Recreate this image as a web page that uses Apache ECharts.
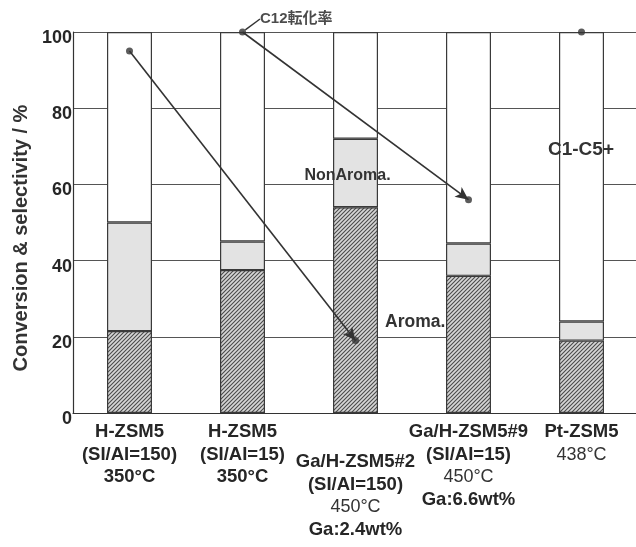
<!DOCTYPE html>
<html>
<head>
<meta charset="utf-8">
<script src="https://cdn.jsdelivr.net/npm/echarts@6/dist/echarts.min.js"></script>
<style>
  html, body { margin: 0; padding: 0; background: #fff; }
  #chart { width: 636px; height: 547px; }
</style>
</head>
<body>
<div id="chart"></div>
<script>
// catalyst / condition lines under each bar
const catalysts = ["H-ZSM5", "H-ZSM5", "Ga/H-ZSM5#2", "Ga/H-ZSM5#9", "Pt-ZSM5"];
const siAl = ["(SI/AI=150)", "(SI/AI=15)", "(SI/AI=150)", "(SI/AI=15)", ""];
const temps = ["350°C", "350°C", "450°C", "450°C", "438°C"];
const gaLoad = ["", "", "Ga:2.4wt%", "Ga:6.6wt%", ""];

// selectivity segments, %
const aroma = [21.5, 37.5, 54, 36, 19];
const nonAroma = [28.5, 7.5, 18, 8.5, 5];
const lightGas = [50, 55, 28, 55.5, 76];
// C12 conversion, %
const conversion = [95, 100, 19, 56, 100];

const yTicks = [0, 20, 40, 60, 80, 100];

const FONT = "'Liberation Sans', Arial, 'Noto Sans CJK JP', sans-serif";

// diagonal hatch for the aromatics segment
function hatch() {
  const c = document.createElement("canvas");
  c.width = 4;
  c.height = 4;
  const g = c.getContext("2d");
  g.fillStyle = "#d6d6d6";
  g.fillRect(0, 0, 4, 4);
  g.strokeStyle = "#4a4a4a";
  g.lineWidth = 1.1;
  g.beginPath();
  g.moveTo(0, 4); g.lineTo(4, 0);
  g.moveTo(-1, 1); g.lineTo(1, -1);
  g.moveTo(3, 5); g.lineTo(5, 3);
  g.stroke();
  return c;
}

const chart = echarts.init(document.getElementById("chart"), null, { renderer: "canvas" });

const border = { borderColor: "#3a3a3a", borderWidth: 1.2 };

const option = {
  animation: false,
  textStyle: { fontFamily: FONT },
  grid: { left: 73, right: -2, top: 32, bottom: 134, outerBoundsMode: "none" },
  xAxis: {
    type: "category",
    data: catalysts,
    axisLine: { lineStyle: { color: "#333", width: 1.2 } },
    axisTick: { inside: true, length: 4, lineStyle: { color: "#444" } },
    splitLine: { show: false },
    axisLabel: {
      interval: 0,
      margin: 8,
      formatter: function (v, i) {
        const lines = [];
        if (i === 2) lines.push("{sp| }");
        lines.push("{b|" + catalysts[i] + "}");
        if (siAl[i]) lines.push("{b|" + siAl[i] + "}");
        lines.push((i < 2 ? "{b|" : "{n|") + temps[i] + "}");
        if (gaLoad[i]) lines.push("{b|" + gaLoad[i] + "}");
        return lines.join("\n");
      },
      rich: {
        sp: { lineHeight: 30, fontSize: 10 },
        b: { fontSize: 18.5, fontWeight: "bold", color: "#262626", lineHeight: 22.5, fontFamily: FONT },
        n: { fontSize: 18, fontWeight: "normal", color: "#333", lineHeight: 22.5, fontFamily: FONT }
      }
    }
  },
  yAxis: {
    type: "value",
    min: yTicks[0],
    max: yTicks[yTicks.length - 1],
    interval: 20,
    name: "Conversion & selectivity / %",
    nameLocation: "middle",
    nameGap: 42,
    nameTextStyle: {
      fontSize: 20,
      fontWeight: "bold",
      color: "#333",
      fontFamily: FONT,
      padding: [0, 31, 0, 0]
    },
    axisLine: { show: true, lineStyle: { color: "#333", width: 1.2 } },
    axisTick: { show: false },
    axisLabel: {
      margin: 1,
      formatter: "{t|{value}}",
      rich: {
        t: { fontSize: 18, fontWeight: "bold", color: "#262626", padding: [12, 0, 0, 0], fontFamily: FONT }
      }
    },
    splitLine: { lineStyle: { color: "#555", width: 1.2 } }
  },
  series: [
    {
      name: "Aroma.",
      type: "bar",
      stack: "sel",
      barWidth: 45,
      data: aroma.map(function (v, i) {
        if (i !== 2) return v;
        return {
          value: v,
          label: {
            show: true,
            formatter: "Aroma.",
            position: [52, 115],
            align: "left",
            verticalAlign: "middle",
            fontSize: 17.5,
            fontWeight: "bold",
            color: "#333"
          }
        };
      }),
      itemStyle: Object.assign({ color: { image: hatch(), repeat: "repeat" } }, border)
    },
    {
      name: "NonAroma.",
      type: "bar",
      stack: "sel",
      barWidth: 45,
      data: nonAroma.map(function (v, i) {
        if (i !== 2) return v;
        return {
          value: v,
          label: {
            show: true,
            formatter: "NonAroma.",
            position: "inside",
            offset: [-8, 3],
            fontSize: 16,
            fontWeight: "bold",
            color: "#333"
          }
        };
      }),
      itemStyle: Object.assign({ color: "#e3e3e3" }, border)
    },
    {
      name: "C1-C5+",
      type: "bar",
      stack: "sel",
      barWidth: 45,
      data: lightGas.map(function (v, i) {
        if (i !== 4) return v;
        return {
          value: v,
          label: {
            show: true,
            formatter: "C1-C5+",
            position: [22, 118],
            align: "center",
            verticalAlign: "middle",
            fontSize: 19,
            fontWeight: "bold",
            color: "#333"
          }
        };
      }),
      itemStyle: Object.assign({ color: "#fff" }, border)
    },
    {
      name: "C12転化率",
      type: "scatter",
      z: 5,
      symbol: "circle",
      symbolSize: 7,
      itemStyle: { color: "#333" },
      data: conversion.map(function (v, i) {
        if (i !== 1) return v;
        return {
          value: v,
          label: {
            show: true,
            formatter: "C12転化率",
            position: "right",
            distance: 5,
            fontSize: 15,
            fontWeight: "bold",
            color: "#1e1e1e",
            fontFamily: FONT
          },
          labelLine: { show: true, lineStyle: { color: "#333", width: 1.4 } }
        };
      }),
      labelLayout: { dx: 9, dy: -13 },
      markLine: {
        silent: true,
        symbol: ["none", "arrow"],
        symbolSize: [9, 13],
        label: { show: false },
        lineStyle: { color: "#333", width: 1.6, type: "solid" },
        data: [
          [{ coord: [0, conversion[0]] }, { coord: [2, conversion[2]] }],
          [{ coord: [1, conversion[1]] }, { coord: [3, conversion[3]] }]
        ]
      }
    }
  ]
};

chart.setOption(option);
</script>
</body>
</html>
